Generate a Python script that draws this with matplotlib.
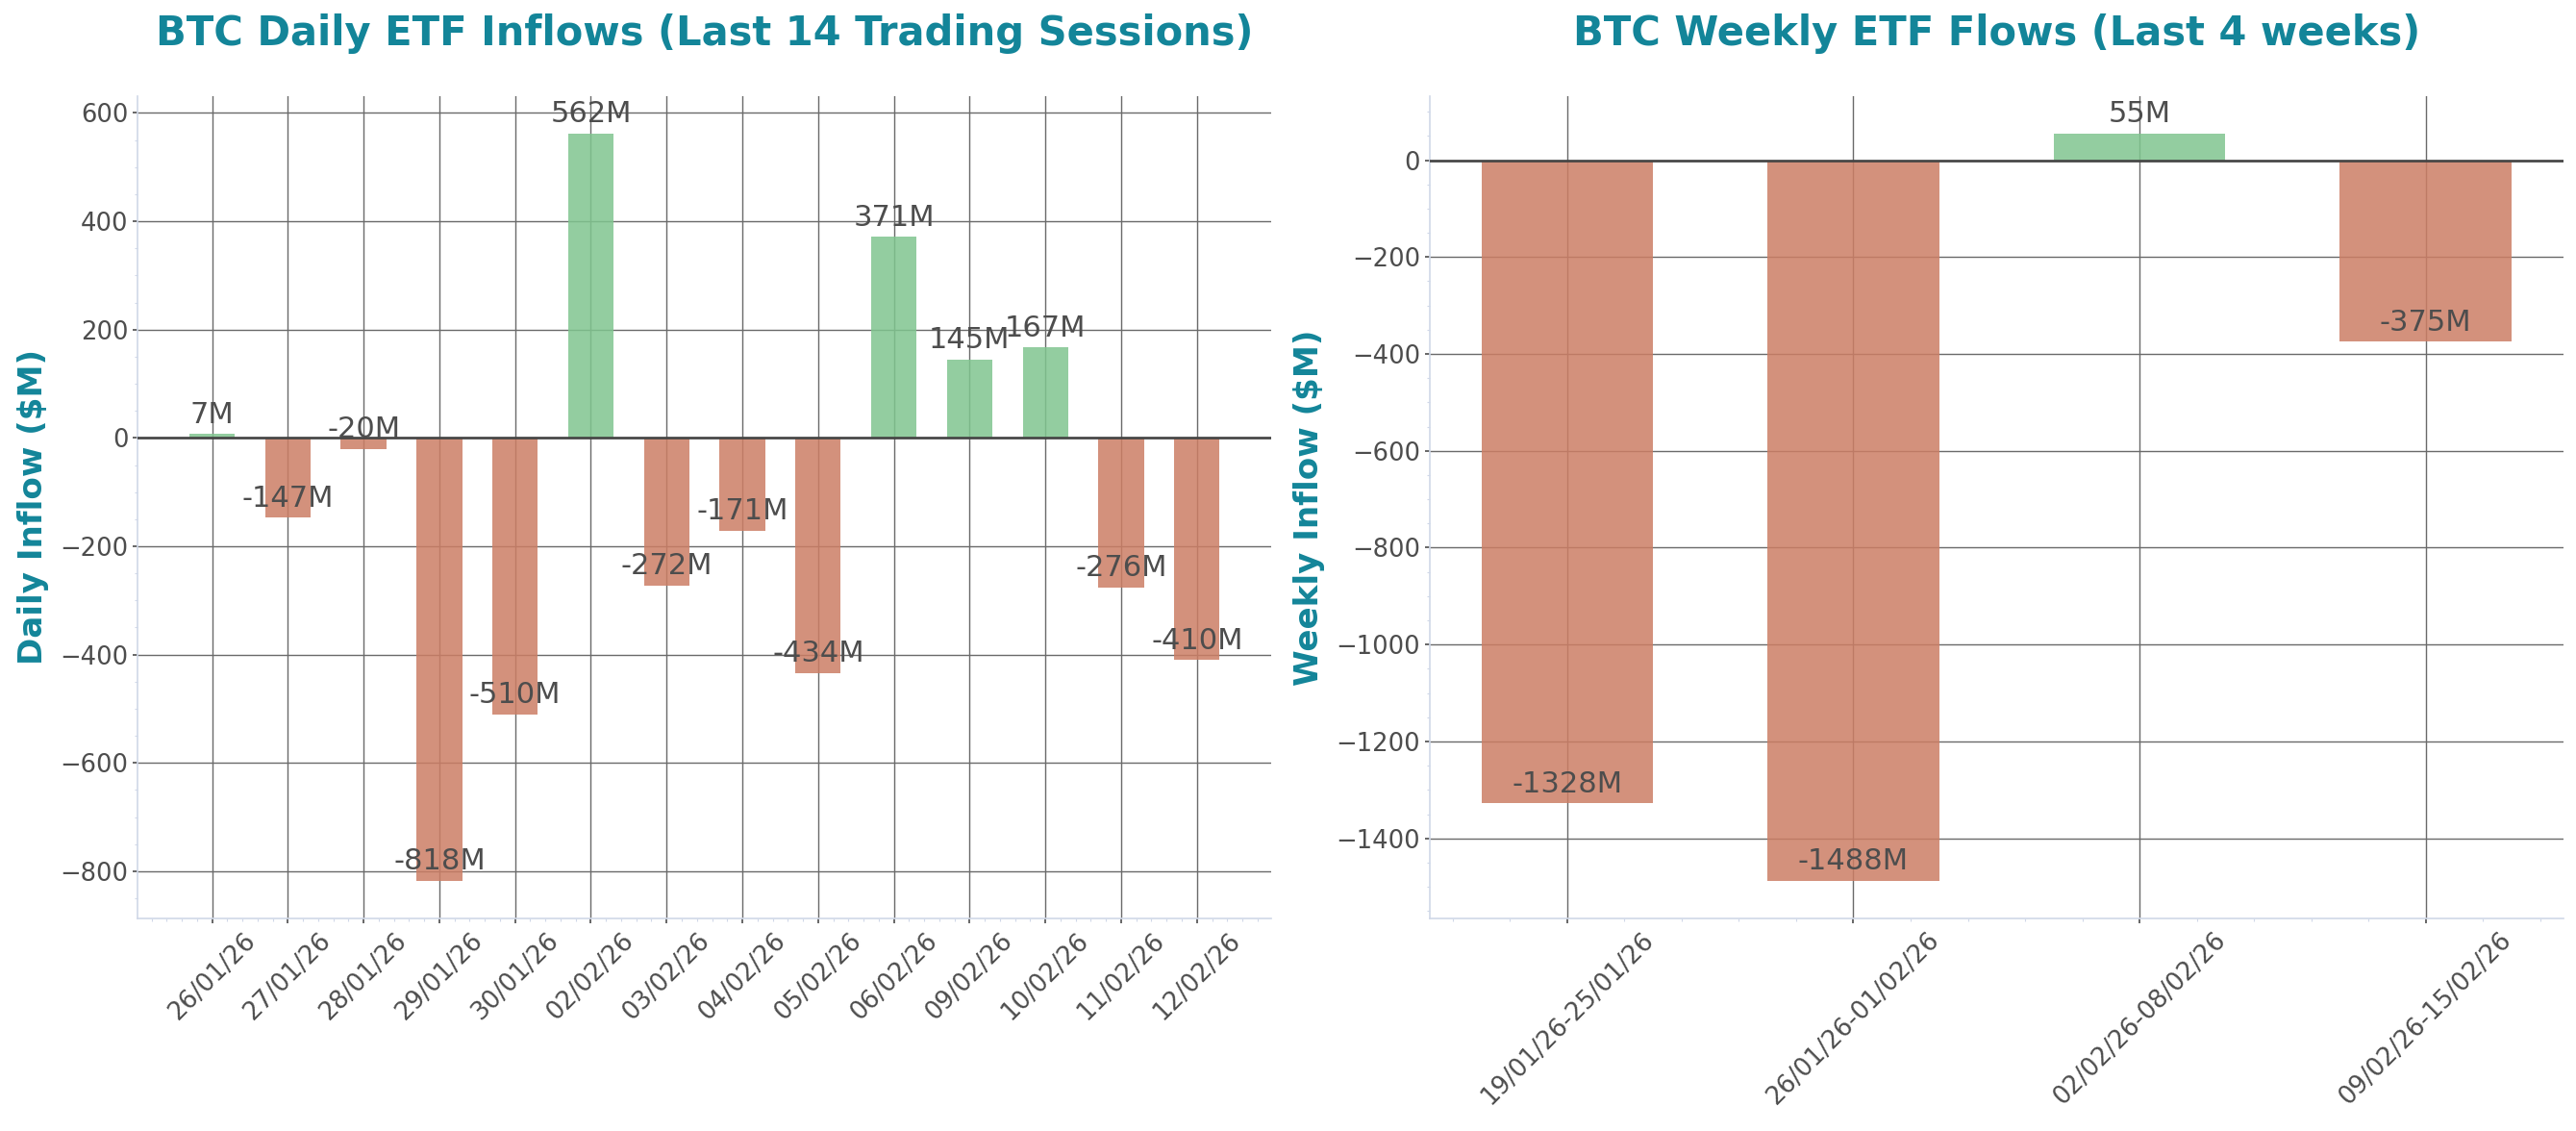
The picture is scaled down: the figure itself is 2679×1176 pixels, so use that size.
import matplotlib
matplotlib.use("Agg")
import matplotlib.pyplot as plt
from matplotlib.ticker import AutoMinorLocator

plt.rcParams['font.family'] = ['DejaVu Sans']

daily_dates = ["26/01/26", "27/01/26", "28/01/26", "29/01/26", "30/01/26", "02/02/26", "03/02/26",
               "04/02/26", "05/02/26", "06/02/26", "09/02/26", "10/02/26", "11/02/26", "12/02/26"]
daily_flows = [7, -147, -20, -818, -510, 562, -272, -171, -434, 371, 145, 167, -276, -410]

weekly_ranges = ["19/01/26-25/01/26", "26/01/26-01/02/26", "02/02/26-08/02/26", "09/02/26-15/02/26"]
weekly_flows = [-1328, -1488, 55, -375]

GREEN = "#80c58f"
RED = "#cc7e65"
TEAL = "#138599"
TXT = "#4d4d4d"
SPINE = "#d0d8e8"
GRID = "#6a6a6a"

fig, axes = plt.subplots(1, 2, figsize=(13.395, 5.88), dpi=200)
fig.subplots_adjust(left=0.0535, right=0.995, top=0.915, bottom=0.188, wspace=0.14)


def draw(ax, cats, vals, title, ylabel):
    x = list(range(len(cats)))
    colors = [GREEN if v >= 0 else RED for v in vals]
    ax.set_axisbelow(True)
    ax.grid(True, which='major', color=GRID, linewidth=0.5)
    ax.bar(x, vals, width=0.6, color=colors, alpha=0.85, zorder=2)
    ax.axhline(0, color="#444444", linewidth=0.95, zorder=3)
    for xi, v in zip(x, vals):
        ax.annotate(f"{v:.0f}M", (xi, v), xytext=(0, 2), textcoords="offset points",
                    ha="center", va="bottom", fontsize=11, color=TXT, zorder=4)
    ax.set_xticks(x)
    ax.set_xticklabels(cats, rotation=45, ha="center")
    ax.xaxis.set_minor_locator(AutoMinorLocator())
    ax.yaxis.set_minor_locator(AutoMinorLocator())
    ax.tick_params(axis='both', which='major', labelsize=9.3, labelcolor=TXT, color=TXT,
                   length=1.8, width=0.6, pad=1.8)
    ax.tick_params(axis='both', which='minor', color=SPINE, length=1.0, width=0.4)
    for s in ("top", "right"):
        ax.spines[s].set_visible(False)
    for s in ("left", "bottom"):
        ax.spines[s].set_color(SPINE)
        ax.spines[s].set_linewidth(0.6)
    ax.set_title(title, fontsize=15, fontweight="bold", color=TEAL, pad=19)
    ax.set_ylabel(ylabel, fontsize=12.3, fontweight="bold", color=TEAL, labelpad=4)


draw(axes[0], daily_dates, daily_flows, "BTC Daily ETF Inflows (Last 14 Trading Sessions)", "Daily Inflow ($M)")
draw(axes[1], weekly_ranges, weekly_flows, "BTC Weekly ETF Flows (Last 4 weeks)", "Weekly Inflow ($M)")

fig.savefig("out.png", dpi=200)
